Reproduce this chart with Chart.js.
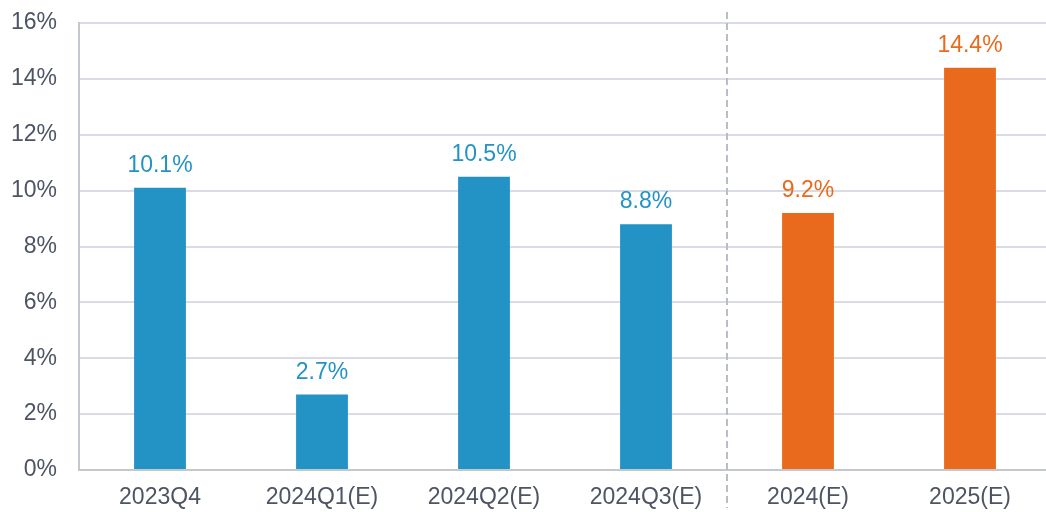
<!DOCTYPE html>
<html>
<head>
<meta charset="utf-8">
<script src="https://cdn.jsdelivr.net/npm/chart.js@4"></script>
<style>
  html, body { margin: 0; padding: 0; background: #fff; overflow: hidden; }
  #wrap { width: 1051px; height: 512px; }
</style>
</head>
<body>
<div id="wrap"><canvas id="growthChart"></canvas></div>
<script>
// ---- data ----
const categories = ["2023Q4", "2024Q1(E)", "2024Q2(E)", "2024Q3(E)", "2024(E)", "2025(E)"];
const values = [10.1, 2.7, 10.5, 8.8, 9.2, 14.4];
const isAnnual = [false, false, false, false, true, true];
const yTicks = [0, 2, 4, 6, 8, 10, 12, 14, 16];

const BLUE = "#2393c6";
const ORANGE = "#e96a1c";
const barColors = isAnnual.map(a => a ? ORANGE : BLUE);
const FONT = "'Liberation Sans', Arial, sans-serif";

// value labels above bars
const valueLabels = {
  id: "valueLabels",
  afterDatasetsDraw(chart) {
    const ctx = chart.ctx;
    const meta = chart.getDatasetMeta(0);
    ctx.save();
    ctx.font = "23px " + FONT;
    ctx.textAlign = "center";
    ctx.textBaseline = "alphabetic";
    meta.data.forEach((bar, i) => {
      ctx.fillStyle = barColors[i];
      ctx.fillText(values[i].toFixed(1) + "%", bar.x, bar.y - 16);
    });
    ctx.restore();
  }
};

// dashed separator between quarterly and annual figures
const separator = {
  id: "separator",
  afterDraw(chart) {
    const x = chart.scales.x;
    const idx = isAnnual.indexOf(true);
    const px = (x.getPixelForValue(idx - 1) + x.getPixelForValue(idx)) / 2;
    const ctx = chart.ctx;
    ctx.save();
    ctx.strokeStyle = "#b9bec6";
    ctx.lineWidth = 2;
    ctx.setLineDash([7, 4]);
    ctx.beginPath();
    ctx.moveTo(px, 12);
    ctx.lineTo(px, 508);
    ctx.stroke();
    ctx.restore();
  }
};

new Chart(document.getElementById("growthChart"), {
  type: "bar",
  data: {
    labels: categories,
    datasets: [{
      data: values,
      backgroundColor: barColors,
      barPercentage: 0.32,
      categoryPercentage: 1
    }]
  },
  plugins: [valueLabels, separator],
  options: {
    responsive: true,
    maintainAspectRatio: false,
    animation: false,
    layout: { padding: { top: 23, right: 0, bottom: 0, left: 0 } },
    plugins: {
      legend: { display: false },
      tooltip: { enabled: false }
    },
    scales: {
      x: {
        afterFit: s => { s.height = 42; s.paddingLeft = 0; s.paddingRight = 0; },
        grid: { display: false, drawTicks: false },
        border: { color: "#c3c7ce", width: 2 },
        ticks: {
          color: "#4d5463",
          padding: 14,
          maxRotation: 0,
          font: { family: FONT, size: 23 }
        }
      },
      y: {
        min: 0,
        max: 16,
        afterFit: s => { s.width = 79; s.paddingTop = 0; s.paddingBottom = 0; },
        afterBuildTicks: s => { s.ticks = yTicks.map(v => ({ value: v })); },
        grid: { color: "#d9dce2", lineWidth: 2, drawTicks: false },
        border: { color: "#c3c7ce", width: 2 },
        ticks: {
          color: "#4d5463",
          padding: 22,
          callback: v => v + "%",
          font: { family: FONT, size: 23 }
        }
      }
    }
  }
});
</script>
</body>
</html>
